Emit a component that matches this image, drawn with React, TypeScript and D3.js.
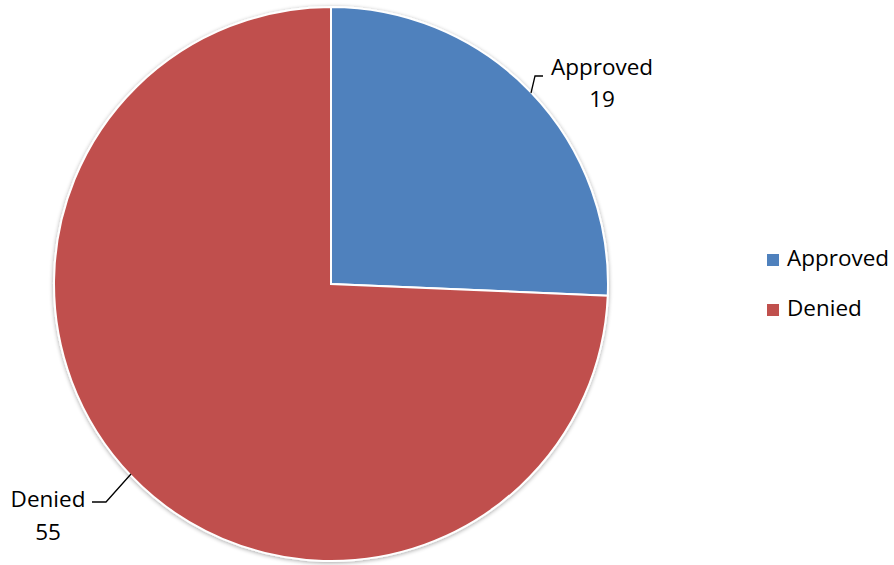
import React from "react";
import * as d3 from "d3";

const categories = ["Approved", "Denied"];
const values = [19, 55];
const colors = ["#4F81BD", "#C0504D"];

export default function App() {
  const W = 894, H = 565;
  const cx = 331, cy = 284, r = 277;
  const pie = d3.pie<number>().sort(null).value((d) => d)(values);
  const arc = d3.arc<d3.PieArcDatum<number>>().innerRadius(0).outerRadius(r);
  const font = "'Open Sans', sans-serif";
  const fs = 22.5;
  return (
    <svg width={W} height={H} style={{ position: "absolute", left: 0, top: 0 }} fontFamily={font}>
      <defs>
        <filter id="sh" x="-10%" y="-10%" width="120%" height="120%">
          <feGaussianBlur in="SourceAlpha" stdDeviation="2" />
          <feOffset dx="0" dy="1" result="b" />
          <feComponentTransfer><feFuncA type="linear" slope="0.35" /></feComponentTransfer>
          <feMerge><feMergeNode /><feMergeNode in="SourceGraphic" /></feMerge>
        </filter>
      </defs>
      <rect width={W} height={H} fill="#fff" />
      <g transform={`translate(${cx},${cy})`} filter="url(#sh)">
        {pie.map((p, i) => (
          <path key={i} d={arc(p) || ""} fill={colors[i]} stroke="#fff" strokeWidth={2} />
        ))}
      </g>
      {/* Approved label */}
      <polyline points="531,93 535,76 543,76" fill="none" stroke="#000" strokeWidth={1.3} />
      <text x={602} y={75} fontSize={fs} textAnchor="middle" fill="#000">{categories[0]}</text>
      <text x={602} y={107} fontSize={fs} textAnchor="middle" fill="#000">{values[0]}</text>
      {/* Denied label */}
      <polyline points="131,474 106,502 92,502" fill="none" stroke="#000" strokeWidth={1.3} />
      <text x={48} y={507} fontSize={fs} textAnchor="middle" fill="#000">{categories[1]}</text>
      <text x={48} y={540} fontSize={fs} textAnchor="middle" fill="#000">{values[1]}</text>
      {/* Legend */}
      {categories.map((c, i) => (
        <g key={c} transform={`translate(767,${254 + i * 50})`}>
          <rect width={12} height={12} fill={colors[i]} />
          <text x={20} y={12} fontSize={fs} fill="#000">{c}</text>
        </g>
      ))}
    </svg>
  );
}
